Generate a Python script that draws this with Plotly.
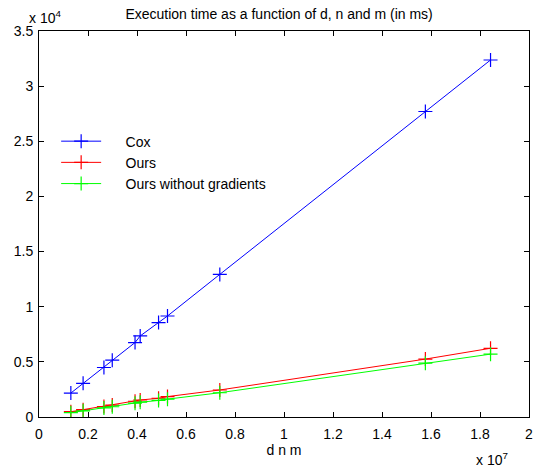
import plotly.graph_objects as go

# d*n*m values and timings (ms)
dnm = [0.13e7, 0.18e7, 0.265e7, 0.299e7, 0.392e7, 0.413e7, 0.488e7, 0.5245e7, 0.738e7, 1.577e7, 1.843e7]
cox = [2170, 3050, 4490, 5150, 6750, 7350, 8560, 9160, 12930, 27700, 32370]
ours = [480, 660, 950, 1080, 1430, 1540, 1700, 1850, 2450, 5250, 6230]
ours_nograd = [390, 560, 820, 930, 1250, 1340, 1500, 1620, 2200, 4880, 5700]

xticks = [i * 0.2e7 for i in range(11)]
xtick_text = ["0", "0.2", "0.4", "0.6", "0.8", "1", "1.2", "1.4", "1.6", "1.8", "2"]
yticks = [i * 5000 for i in range(8)]
ytick_text = ["0", "0.5", "1", "1.5", "2", "2.5", "3", "3.5"]

series = [
    ("Cox", cox, "rgb(0,0,255)"),
    ("Ours", ours, "rgb(255,0,0)"),
    ("Ours without gradients", ours_nograd, "rgb(0,255,0)"),
]

pad = "\u00a0" * 5

fig = go.Figure()
for name, vals, col in series:
    fig.add_trace(go.Scatter(
        x=dnm, y=vals, name=pad + name, mode="lines+markers",
        line=dict(color=col, width=1),
        marker=dict(symbol="cross-thin", size=10, line=dict(color=col, width=1.2)),
    ))

axis_style = dict(
    showline=True, linecolor="black", linewidth=1, mirror="ticks",
    ticks="inside", ticklen=5, tickcolor="black", tickwidth=1,
    showgrid=False, zeroline=False, tickfont=dict(size=14, color="black"),
)

fig.update_xaxes(range=[0, 2e7], tickvals=xticks, ticktext=xtick_text, ticklabelstandoff=4,
                 title=dict(text="d n m", font=dict(size=14, color="black"), standoff=4),
                 **axis_style)
fig.update_yaxes(range=[0, 35000], tickvals=yticks, ticktext=ytick_text, ticklabelstandoff=2,
                 **axis_style)

fig.update_layout(
    width=545, height=468,
    margin=dict(l=39, r=13, t=31, b=50),
    paper_bgcolor="white", plot_bgcolor="white",
    font=dict(family="Liberation Sans, Arial, sans-serif", size=14, color="black"),
    title=dict(text="Execution time as a function of d, n and m (in ms)",
               x=0.49, xref="paper", y=1 - 14 / 468, yref="container",
               xanchor="center", yanchor="middle", font=dict(size=14, color="black")),
    legend=dict(x=0.035, y=0.755, xanchor="left", yanchor="top",
                bgcolor="rgba(0,0,0,0)", font=dict(size=14), itemwidth=40,
                tracegroupgap=0),
    annotations=[
        dict(text="x 10<sup>4</sup>", xref="paper", yref="paper", x=-0.024, y=1.008,
             xanchor="left", yanchor="bottom", showarrow=False, font=dict(size=14)),
        dict(text="x 10<sup>7</sup>", xref="paper", yref="paper", x=0.888, y=-0.11,
             xanchor="left", yanchor="middle", showarrow=False, font=dict(size=14)),
    ],
)

fig.write_html("out.html", config={"displayModeBar": False},
               post_script="document.body.style.margin='0';")
